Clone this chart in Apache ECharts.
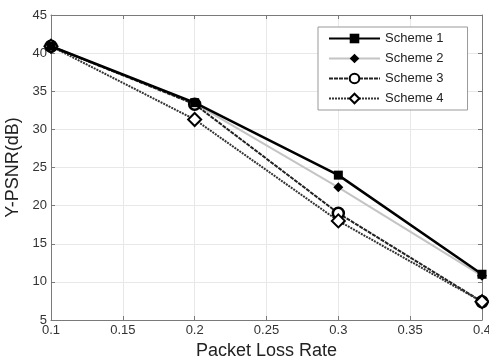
<!DOCTYPE html>
<html lang="en">
<head>
    <meta charset="UTF-8">
    <title>Y-PSNR vs Packet Loss Rate</title>
    <script src="https://cdn.jsdelivr.net/npm/echarts@6/dist/echarts.min.js"></script>
</head>
<body style="margin:0">
    <div id="main" style="width:489px;height:356px"></div>
    <script>
        // 丢包率 (x) 和各方案的 Y-PSNR 值
        var lossRates = [0.1, 0.2, 0.3, 0.4]
        var scheme1 = [40.9, 33.5, 24.0, 11.0]
        var scheme2 = [40.9, 33.4, 22.4, 10.8]
        var scheme3 = [40.9, 33.3, 19.0, 7.4]
        var scheme4 = [40.9, 31.3, 18.0, 7.4]
        var names = ['Scheme 1', 'Scheme 2', 'Scheme 3', 'Scheme 4']

        function pairs(vals) {
            return vals.map(function (v, i) { return [lossRates[i], v] })
        }

        var myChart = echarts.init(document.getElementById('main'))
        var axisGray = '#7a7a7a'
        var font = 'Liberation Sans, Arial, sans-serif'

        var option = {
            animation: false,
            backgroundColor: '#fff',
            grid: { left: 51, right: 7, top: 15, bottom: 36, outerBoundsMode: 'none', containLabel: false },
            legend: {
                orient: 'vertical',
                left: 318,
                top: 27,
                padding: [5, 24, 5, 10],
                itemWidth: 51,
                itemHeight: 12,
                itemGap: 7,
                borderColor: '#999',
                borderWidth: 1,
                backgroundColor: '#fff',
                textStyle: { fontFamily: font, fontSize: 13, color: '#222' },
                data: names
            },
            xAxis: [{
                type: 'value',
                min: 0.1, max: 0.4, interval: 0.05,
                name: 'Packet Loss Rate',
                nameLocation: 'middle',
                nameGap: 18,
                nameTextStyle: { fontFamily: font, fontSize: 18, color: '#222', verticalAlign: 'top' },
                axisLine: { lineStyle: { color: axisGray } },
                axisTick: { inside: true, length: 4, lineStyle: { color: axisGray } },
                axisLabel: { fontFamily: font, fontSize: 13, color: '#333', margin: 4 },
                splitLine: { lineStyle: { color: '#e8e8e8' } }
            }, {
                type: 'value', position: 'top',
                min: 0.1, max: 0.4, interval: 0.05,
                axisLine: { show: true, onZero: false, lineStyle: { color: axisGray } },
                axisTick: { inside: true, length: 4, lineStyle: { color: axisGray } },
                axisLabel: { show: false },
                splitLine: { show: false }
            }],
            yAxis: [{
                type: 'value',
                min: 5, max: 45, interval: 5,
                name: 'Y-PSNR(dB)',
                nameLocation: 'middle',
                nameGap: 26,
                nameTextStyle: { fontFamily: font, fontSize: 18, color: '#222' },
                axisLine: { show: true, lineStyle: { color: axisGray } },
                axisTick: { show: true, inside: true, length: 4, lineStyle: { color: axisGray } },
                axisLabel: { fontFamily: font, fontSize: 13, color: '#333', margin: 4 },
                splitLine: { lineStyle: { color: '#e8e8e8' } }
            }, {
                type: 'value', position: 'right',
                min: 5, max: 45, interval: 5,
                axisLine: { show: true, onZero: false, lineStyle: { color: axisGray } },
                axisTick: { show: true, inside: true, length: 4, lineStyle: { color: axisGray } },
                axisLabel: { show: false },
                splitLine: { show: false }
            }],
            series: [{
                name: names[0], type: 'line', data: pairs(scheme1),
                symbol: 'rect', symbolSize: 9,
                lineStyle: { color: '#000', width: 2.5 },
                itemStyle: { color: '#000' }, z: 5
            }, {
                name: names[1], type: 'line', data: pairs(scheme2),
                symbol: 'diamond', symbolSize: 10,
                lineStyle: { color: '#c4c4c4', width: 2 },
                itemStyle: { color: '#000' }, z: 3
            }, {
                name: names[2], type: 'line', data: pairs(scheme3),
                symbol: 'circle', symbolSize: 11,
                lineStyle: { color: '#222', width: 2, type: [4, 1] },
                itemStyle: { color: '#fff', borderColor: '#000', borderWidth: 2.5 }, z: 4
            }, {
                name: names[3], type: 'line', data: pairs(scheme4),
                symbol: 'diamond', symbolSize: 13,
                lineStyle: { color: '#333', width: 2, type: [2, 1] },
                itemStyle: { color: '#fff', borderColor: '#000', borderWidth: 2 }, z: 4
            }]
        }
        myChart.setOption(option)
    </script>
</body>
</html>
